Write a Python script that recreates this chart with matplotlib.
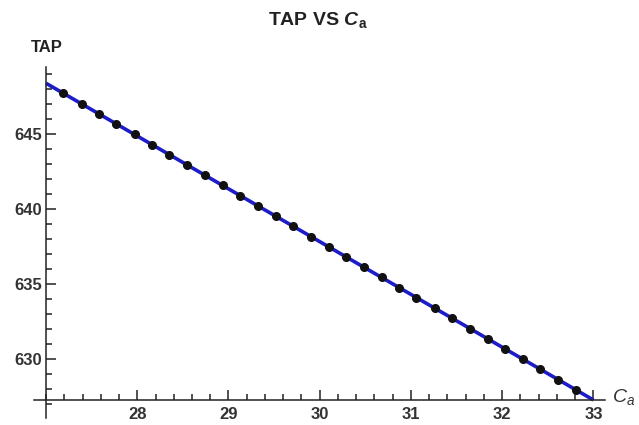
import matplotlib
matplotlib.use("Agg")
import matplotlib.pyplot as plt
from matplotlib.ticker import MultipleLocator

plt.rcParams['font.family'] = ['Liberation Sans', 'DejaVu Sans']
plt.rcParams['mathtext.fontset'] = 'custom'
plt.rcParams['mathtext.rm'] = 'Liberation Sans'
plt.rcParams['mathtext.it'] = 'Liberation Sans:italic'
plt.rcParams['mathtext.bf'] = 'Liberation Sans:bold'
plt.rcParams['mathtext.bfit'] = 'Liberation Sans:italic:bold'

# data
ca_line = [27.0, 33.0]
tap_line = [648.4, 627.3]

ca_pts = [27.19, 27.39, 27.58, 27.77, 27.97, 28.16, 28.35, 28.55, 28.74, 28.94,
          29.13, 29.32, 29.52, 29.71, 29.90, 30.10, 30.29, 30.48, 30.68, 30.87,
          31.06, 31.26, 31.45, 31.65, 31.84, 32.03, 32.23, 32.42, 32.61, 32.81]
tap_pts = [647.72, 647.04, 646.36, 645.68, 645.00, 644.32, 643.64, 642.95, 642.27, 641.59,
           640.91, 640.23, 639.55, 638.87, 638.19, 637.51, 636.83, 636.15, 635.47, 634.79,
           634.11, 633.42, 632.74, 632.06, 631.38, 630.70, 630.02, 629.34, 628.66, 627.98]

x_ticks = [28, 29, 30, 31, 32, 33]
y_ticks = [630, 635, 640, 645]

fig = plt.figure(figsize=(6.39, 4.25), dpi=100)
ax = fig.add_axes([0.0535, 0.0165, 0.8937, 0.8264])

ax.plot(ca_line, tap_line, color='#1c1cc8', lw=2.6, zorder=2, solid_capstyle='butt')
ax.plot(ca_pts, tap_pts, 'o', color='#111111', ms=5.5, zorder=3)

ax.set_xlim(26.87, 33.13)
ax.set_ylim(626.1, 649.5)

for s in ['top', 'right']:
    ax.spines[s].set_visible(False)
ax.spines['left'].set_position(('data', 27.0))
ax.spines['bottom'].set_position(('data', 627.3))
for s in ['left', 'bottom']:
    ax.spines[s].set_linewidth(1.1)
    ax.spines[s].set_color('#222222')

ax.set_xticks(x_ticks)
ax.set_yticks(y_ticks)
ax.xaxis.set_minor_locator(MultipleLocator(0.2))
ax.yaxis.set_minor_locator(MultipleLocator(1))
ax.tick_params(which='both', direction='in', color='#222222', width=1.1,
               labelsize=12, labelcolor='#333333')
ax.tick_params(which='major', length=7)
ax.tick_params(which='minor', length=4)
ax.tick_params(axis='x', which='major', pad=5)
ax.tick_params(axis='y', which='major', pad=3)
for lab in ax.get_xticklabels() + ax.get_yticklabels():
    lab.set_fontweight('bold')

fig.text(0.497, 0.952, r'TAP VS $\mathbfit{C}_\mathbf{a}$', ha='center', va='center',
         fontsize=14, fontweight='bold', color='#222222')
fig.text(47 / 639, 1 - 47 / 425, 'TAP', ha='center', va='center',
         fontsize=12, fontweight='bold', color='#222222')
fig.text(624 / 639, 1 - 397 / 425, r'$C_a$', ha='center', va='center',
         fontsize=14, color='#333333')

fig.savefig('out.png', dpi=100)
